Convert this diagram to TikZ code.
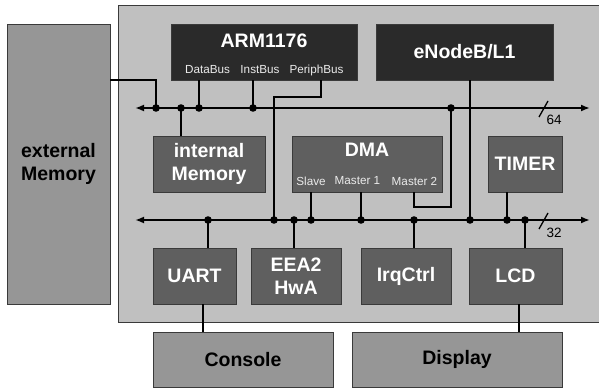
\documentclass[tikz,border=0pt]{standalone}
\usepackage{fontspec}
\setmainfont{Liberation Sans}
\usetikzlibrary{arrows.meta,calc}
\definecolor{chipgray}{HTML}{C0C0C0}
\definecolor{blockgray}{HTML}{5F5F5F}
\definecolor{darkblock}{HTML}{2A2A2A}
\definecolor{extgray}{HTML}{969696}
\definecolor{edgegray}{HTML}{3A3A3A}
\begin{document}
\begin{tikzpicture}[x=1pt,y=-1pt,
  box/.style={draw=edgegray, line width=0.8pt, inner sep=0pt, align=center,
    font=\fontsize{19.5}{23}\selectfont\bfseries},
  darkbox/.style={box, fill=darkblock, text=white},
  midbox/.style={box, fill=blockgray, text=white},
  extbox/.style={box, fill=extgray, text=black},
  title/.style={inner sep=0pt, text=white, font=\fontsize{19.5}{23}\selectfont\bfseries},
  port/.style={inner sep=0pt, font=\fontsize{11.7}{14}\selectfont, text=white!92!black},
  wire/.style={line width=1.9pt, black},
  bus/.style={line width=1.9pt, black, {Latex[length=9pt,width=7pt]}-{Latex[length=9pt,width=7pt]}},
  buslabel/.style={inner sep=0pt, font=\fontsize{13.5}{15}\selectfont}
]
\useasboundingbox (0,0) rectangle (599,390);

% chip background
\node[fill=chipgray, inner sep=0pt, minimum width=480pt, minimum height=316pt] (chip) at (359,164) {};
\draw[edgegray, line width=0.8pt] (chip.north east) -- (chip.north west) -- (chip.south west) -- (chip.south east);

% blocks
\node[extbox, minimum width=103pt, minimum height=280pt] (ext) at (58.5,164) {external\\Memory};
\node[darkbox, minimum width=186pt, minimum height=56pt] (arm) at (264,52) {};
\node[title] (armt) at (264,41) {ARM1176};
\node[port] (pdata) at (207.5,70) {DataBus};
\node[port] (pinst) at (260,70) {InstBus};
\node[port] (pperi) at (316.5,70) {PeriphBus};
\node[darkbox, minimum width=177pt, minimum height=56pt] (enb) at (464.5,52) {eNodeB/L1};

\node[midbox, minimum width=112pt, minimum height=56pt] (imem) at (209,164) {internal\\Memory};
\node[midbox, minimum width=150pt, minimum height=56pt] (dma) at (367,164) {};
\node[title] (dmat) at (367,150) {DMA};
\node[port] (pslave) at (311,181) {Slave};
\node[port] (pm1) at (357.5,181) {Master 1};
\node[port] (pm2) at (414.5,181) {Master 2};
\node[midbox, minimum width=74pt, minimum height=56pt] (timer) at (525,164) {TIMER};

\node[midbox, minimum width=83pt, minimum height=56pt] (uart) at (194.5,276) {UART};
\node[midbox, minimum width=90pt, minimum height=56pt] (eea) at (296,276) {EEA2\\HwA};
\node[midbox, minimum width=90pt, minimum height=56pt] (irq) at (406,276) {IrqCtrl};
\node[midbox, minimum width=93pt, minimum height=56pt] (lcd) at (515.5,276) {LCD};

\node[extbox, minimum width=180pt, minimum height=55pt] (console) at (243,359.5) {Console};
\node[extbox, minimum width=210pt, minimum height=55pt] (display) at (457,359.5) {Display};

% bus coordinates
\coordinate (tL) at (135,108); \coordinate (tR) at (590,108);
\coordinate (bL) at (135,220); \coordinate (bR) at (590,220);
\coordinate (tj1) at (156,108); \coordinate (tj2) at (181,108);
\coordinate (tj3) at (199,108); \coordinate (tj4) at (253,108);
\coordinate (tj5) at (451,108);
\coordinate (bj1) at (208,220); \coordinate (bj2) at (274,220);
\coordinate (bj3) at (294,220); \coordinate (bj4) at (311,220);
\coordinate (bj5) at (361,220); \coordinate (bj6) at (414,220);
\coordinate (bj7) at (470,220); \coordinate (bj8) at (507,220);
\coordinate (bj9) at (525,220);
\coordinate (peri) at (321,97);
\coordinate (m2) at (414,207);
\coordinate (uc) at (203,320);
\coordinate (ld) at (519,320);

% buses
\draw[bus] (tL) -- (tR);
\draw[bus] (bL) -- (bR);
\draw[line width=1.3pt] (539,117) -- (548,101);
\node[buslabel] (l64) at (554,120) {64};
\draw[line width=1.3pt] (539,229) -- (548,213);
\node[buslabel] (l32) at (554,233) {32};

% connectors
\draw[wire] (ext.east |- arm.south) -| (tj1);
\draw[wire] (arm.south -| tj3) -- (tj3);
\draw[wire] (arm.south -| tj4) -- (tj4);
\draw[wire] (arm.south -| peri) -- (peri) -| (bj2);
\draw[wire] (imem.north -| tj2) -- (tj2);
\draw[wire] (dma.south -| bj4) -- (bj4);
\draw[wire] (dma.south -| bj5) -- (bj5);
\draw[wire] (dma.south -| m2) -- (m2) -| (tj5);
\draw[wire] (enb.south -| bj7) -- (bj7);
\draw[wire] (timer.south -| bj8) -- (bj8);
\draw[wire] (uart.north -| bj1) -- (bj1);
\draw[wire] (eea.north -| bj3) -- (bj3);
\draw[wire] (irq.north -| bj6) -- (bj6);
\draw[wire] (lcd.north -| bj9) -- (bj9);
\draw[wire] (uart.south -| uc) -- (console.north -| uc);
\draw[wire] (lcd.south -| ld) -- (display.north -| ld);

% junction dots
\foreach \j in {tj1,tj2,tj3,tj4,tj5,bj1,bj2,bj3,bj4,bj5,bj6,bj7,bj8,bj9}
  \fill (\j) circle (3.8pt);
\end{tikzpicture}
\end{document}
